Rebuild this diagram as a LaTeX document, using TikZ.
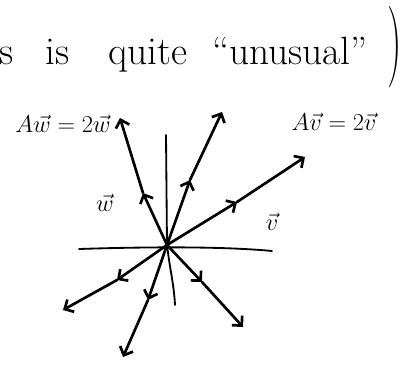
\documentclass[tikz,border=0pt]{standalone}
\usetikzlibrary{arrows.meta}
\begin{document}
\begin{tikzpicture}[x=0.025cm, y=-0.025cm, >={Straight Barb[length=5pt,width=10pt]},
  vec/.style={->, line width=1.9pt, line cap=round},
  axis/.style={line width=1.3pt, line cap=round},
  word/.style={font=\fontsize{28}{32}\selectfont, inner sep=0pt},
  lbl/.style={font=\fontsize{19}{23}\selectfont, inner sep=0pt}]
\useasboundingbox (0,0) rectangle (402,364);
% heading, cut off on the left
\node[word, anchor=base] (s) at (7,64) {s};
\node[word, anchor=base west] (is) at (45,64) {is};
\node[word, anchor=base west] (quite) at (108,64) {quite};
\node[word, anchor=base] (unusual) at (290,64) {``unusual''};
\node[inner sep=0pt, font=\fontsize{58}{60}\selectfont] (paren) at (395,47) {\scalebox{0.5}[1]{)}};
% axes
\coordinate (O) at (167,245);
\coordinate (xl) at (79,249);
\coordinate (xr) at (272,251);
\coordinate (yt) at (166,135);
\coordinate (yb) at (175,305);
\draw[axis] (xl) .. controls (140,247) and (220,246) .. (xr);
\draw[axis] (yt) -- (O) .. controls (170,270) and (174,285) .. (yb);
% eigenvectors and their images
\coordinate (w) at (143,193);
\coordinate (w2) at (120,118);
\coordinate (u) at (190,180);
\coordinate (u2) at (222,112);
\coordinate (v) at (237,202);
\coordinate (v2) at (305,157);
\coordinate (mv) at (117,280);
\coordinate (mv2) at (63,310);
\coordinate (d) at (148,300);
\coordinate (d2) at (123,357);
\coordinate (e) at (202,282);
\coordinate (e2) at (243,327);
\foreach \a/\b in {w/w2, u/u2, v/v2, mv/mv2, d/d2, e/e2} {
  \draw[vec] (O) -- (\a);
  \draw[vec] (\a) -- (\b);
}
% labels
\node[lbl] (Aw) at (63,124) {$A\vec{w}=2\vec{w}$};
\node[lbl] (Av) at (334,122) {$A\vec{v}=2\vec{v}$};
\node[lbl] (wlab) at (105,203) {$\vec{w}$};
\node[lbl] (vlab) at (272,222) {$\vec{v}$};
\end{tikzpicture}
\end{document}
